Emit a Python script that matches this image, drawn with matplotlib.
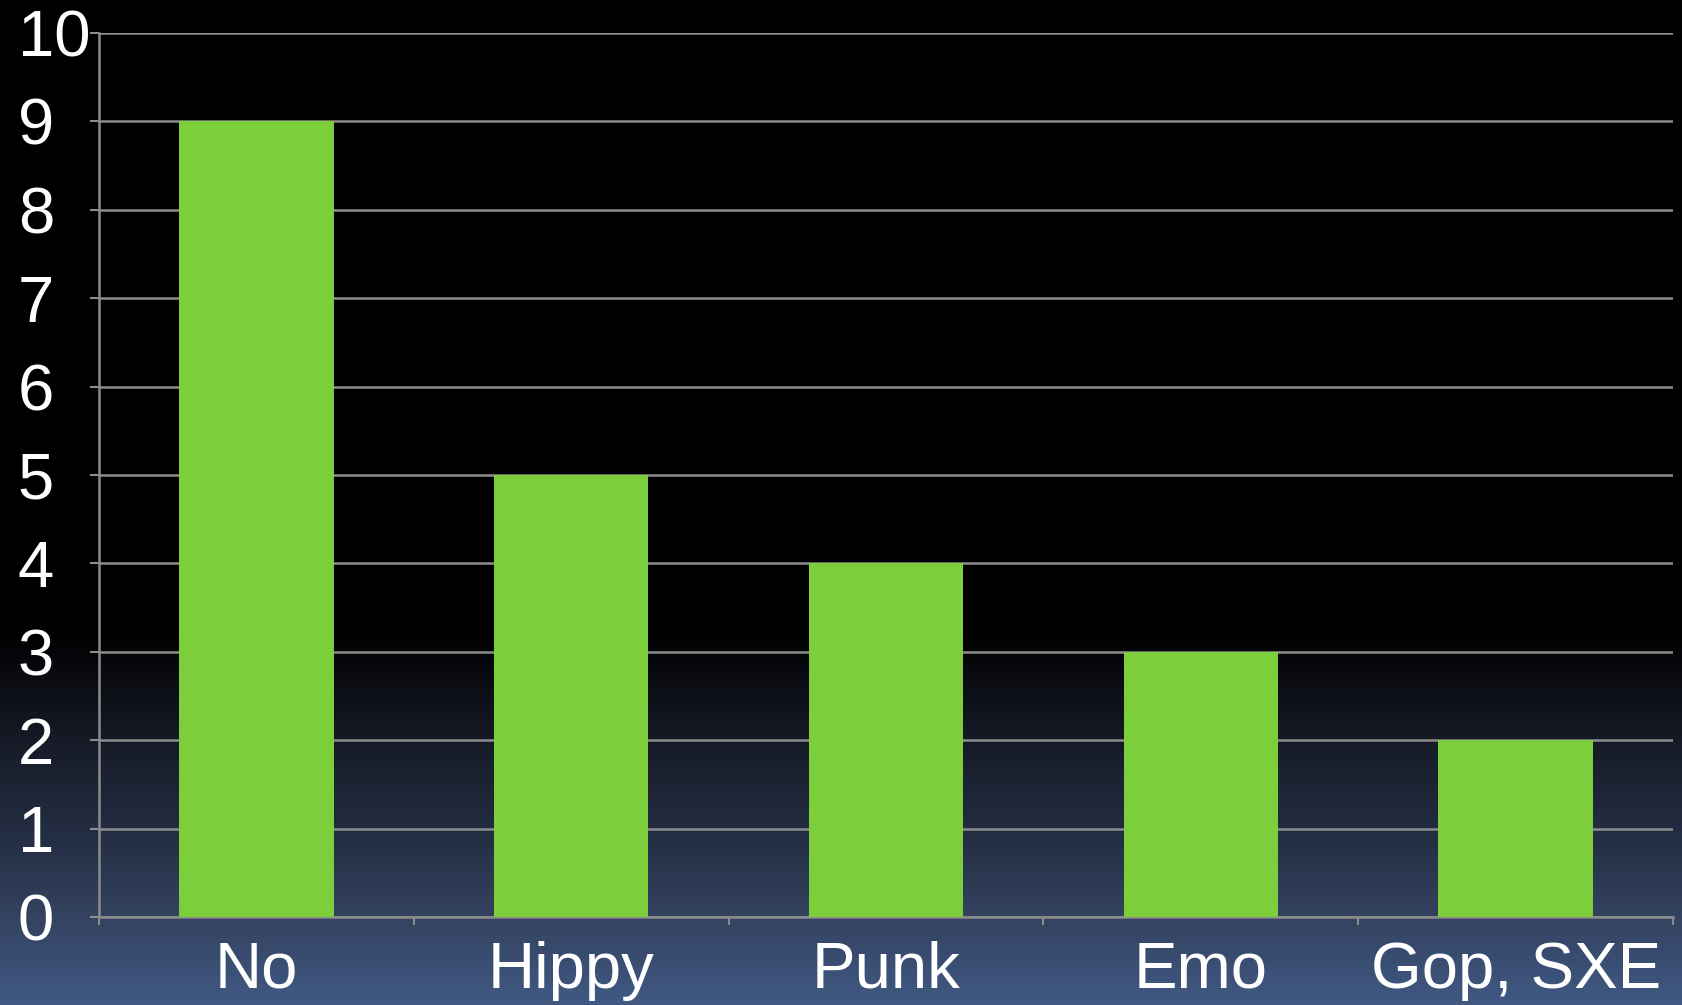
import matplotlib
matplotlib.use("Agg")
import matplotlib.pyplot as plt
import numpy as np
from matplotlib.colors import LinearSegmentedColormap

categories = ["No", "Hippy", "Punk", "Emo", "Gop, SXE"]
values = [9, 5, 4, 3, 2]
yticks = [0, 1, 2, 3, 4, 5, 6, 7, 8, 9, 10]

plt.rcParams['font.family'] = ['Liberation Sans', 'DejaVu Sans']

W, H = 1683, 1005
fig = plt.figure(figsize=(W / 100, H / 100), dpi=100)

# background gradient
bg = fig.add_axes([0, 0, 1, 1], zorder=-10)
stops = [(0.0, "#000000"), (0.63, "#000000"), (0.66, "#07080c"),
         (0.74, "#161b27"), (0.83, "#232d42"), (0.91, "#33425e"), (1.0, "#405883")]
cmap = LinearSegmentedColormap.from_list("bg", stops)
grad = np.linspace(0, 1, 1005).reshape(-1, 1)
bg.imshow(grad, aspect="auto", cmap=cmap, extent=[0, 1, 0, 1], origin="upper")
bg.axis("off")

ax = fig.add_axes([99 / W, 1 - 917 / H, (1673 - 99) / W, (917 - 33) / H])
ax.set_facecolor("none")

x = np.arange(len(categories))
ax.bar(x, values, width=0.49, color="#7ccf3a", zorder=3)

ax.set_xlim(-0.5, len(categories) - 0.5)
ax.set_ylim(0, 10)
ax.set_yticks(yticks)
ax.set_yticklabels([str(v) for v in yticks])
ax.yaxis.grid(True, color="#8c8c8c", linewidth=1.8, zorder=1)
ax.set_axisbelow(True)

ax.set_xticks(x)
ax.set_xticklabels(categories)
ax.set_xticks(np.arange(len(categories) + 1) - 0.5, minor=True)
ax.tick_params(axis="x", which="major", length=0, pad=17, labelsize=47, labelcolor="white")
ax.tick_params(axis="x", which="minor", length=6, width=1.5, color="#8c8c8c", direction="out")
ax.tick_params(axis="y", length=6.5, width=1.5, color="#8c8c8c", pad=52, labelsize=47, labelcolor="white")
for lbl in ax.get_yticklabels():
    lbl.set_horizontalalignment("left")

for s in ["top", "right"]:
    ax.spines[s].set_visible(False)
for s in ["left", "bottom"]:
    ax.spines[s].set_color("#8c8c8c")
    ax.spines[s].set_linewidth(1.8)

fig.savefig("out.png", dpi=100)
